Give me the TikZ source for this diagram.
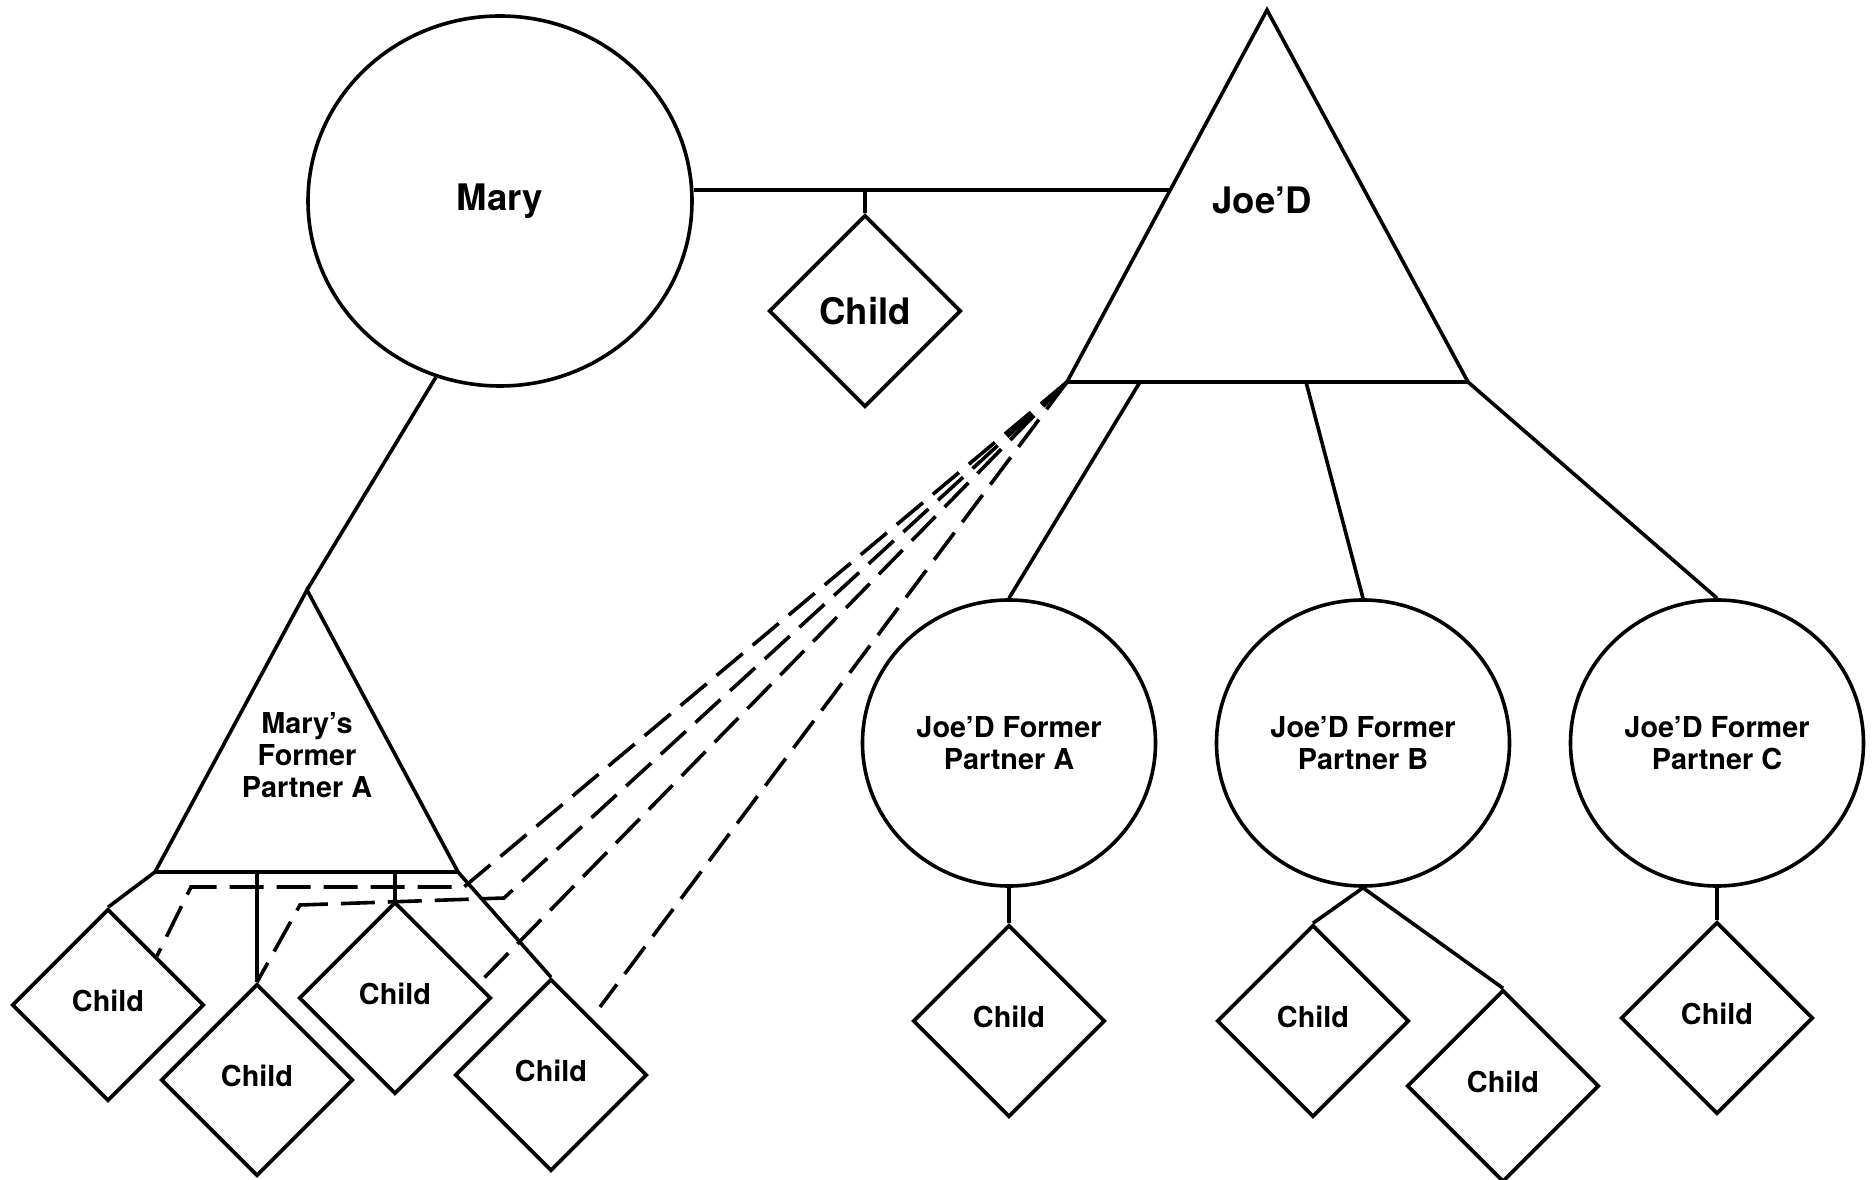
\documentclass[tikz,border=0pt]{standalone}
\usepackage{fontspec}
\setmainfont{TeX Gyre Heros}
\usetikzlibrary{shapes.geometric,calc}

\begin{document}
\begin{tikzpicture}[x=0.1mm,y=-0.1mm,line width=0.36mm,
    person/.style={draw,ellipse,inner sep=0pt,align=center,font=\bfseries\fontsize{8.2}{9.1}\selectfont},
    kid/.style={draw,diamond,inner sep=0pt,minimum width=19.2mm,minimum height=19.2mm,text depth=0.8mm,font=\bfseries\fontsize{8.2}{9.1}\selectfont},
    big/.style={font=\bfseries\fontsize{10.4}{12}\selectfont},
    past/.style={dash pattern=on 3.4mm off 1.3mm}]
    \useasboundingbox (0,0) rectangle (1874,1180);

    % Mary and Joe'D
    \node[person,big,minimum width=38.4mm,minimum height=37mm] (mary) at (500,201) {Mary};
    \coordinate (joeTop) at (1267,10);
    \coordinate (joeBL) at (1067,382);
    \coordinate (joeBR) at (1468,382);
    \draw (joeTop) -- (joeBL) -- (joeBR) -- cycle;
    \node[big] (joeLabel) at (1262,200) {Joe’D};
    \coordinate (joeLeft) at ($(joeTop)!0.484!(joeBL)$);
    \draw (mary.east |- joeLeft) -- (joeLeft);
    \node[kid,big,text depth=0pt] (kidTop) at (865,311) {Child};
    \draw (kidTop.north) -- (kidTop.north |- joeLeft);

    % Joe'D former partners
    \node[person,minimum width=29.3mm,minimum height=28.6mm] (jpa) at (1009,743) {Joe’D Former\\Partner A};
    \node[person,minimum width=29.3mm,minimum height=28.6mm] (jpb) at (1363,743) {Joe’D Former\\Partner B};
    \node[person,minimum width=29.3mm,minimum height=28.6mm] (jpc) at (1717,743) {Joe’D Former\\Partner C};
    \draw ($(joeBL)!0.182!(joeBR)$) -- (jpa.north);
    \draw ($(joeBL)!0.596!(joeBR)$) -- (jpb.north);
    \draw (joeBR) -- (jpc.north);

    \node[kid] (ja1) at (1009,1021) {Child};
    \node[kid] (jb1) at (1313,1021) {Child};
    \node[kid] (jb2) at (1503,1086) {Child};
    \node[kid] (jc1) at (1717,1018) {Child};
    \draw (jpa.south) -- (ja1.north);
    \draw (jpb.south) -- (jb1.north);
    \draw (jpb.south) -- (jb2.north);
    \draw (jpc.south) -- (jc1.north);

    % Mary's former partner
    \coordinate (mfpTop) at (307,590);
    \coordinate (mfpBL) at (155,872);
    \coordinate (mfpBR) at (458,872);
    \draw (mfpTop) -- (mfpBL) -- (mfpBR) -- cycle;
    \node[align=center,font=\bfseries\fontsize{8.2}{9.1}\selectfont] (mfpLabel) at (307,755) {Mary’s\\Former\\Partner A};
    \draw (mary.250) -- (mfpTop);

    \node[kid] (mk1) at (108,1005) {Child};
    \node[kid] (mk2) at (257,1080) {Child};
    \node[kid] (mk3) at (395,998) {Child};
    \node[kid] (mk4) at (551,1075) {Child};
    \draw (mfpBL) -- (mk1.north);
    \draw (mk2.north |- mfpBL) -- (mk2.north);
    \draw (mk3.north |- mfpBL) -- (mk3.north);
    \draw (mfpBR) -- (mk4.north);

    % dashed links to Joe'D
    \coordinate (bendA1) at (464,887);
    \coordinate (bendA2) at (191,887);
    \coordinate (bendB1) at (504,898);
    \coordinate (bendB2) at (300,905);
    \coordinate (endC) at (484,978);
    \coordinate (endD) at (600,1007);
    \draw[past] (joeBL) -- (bendA1) -- (bendA2) -- ($(mk1.north)!0.5!(mk1.east)$);
    \draw[past] (joeBL) -- (bendB1) -- (bendB2) -- (mk2.north);
    \draw[past] (joeBL) -- (endC);
    \draw[past] (joeBL) -- (endD);
\end{tikzpicture}
\end{document}
